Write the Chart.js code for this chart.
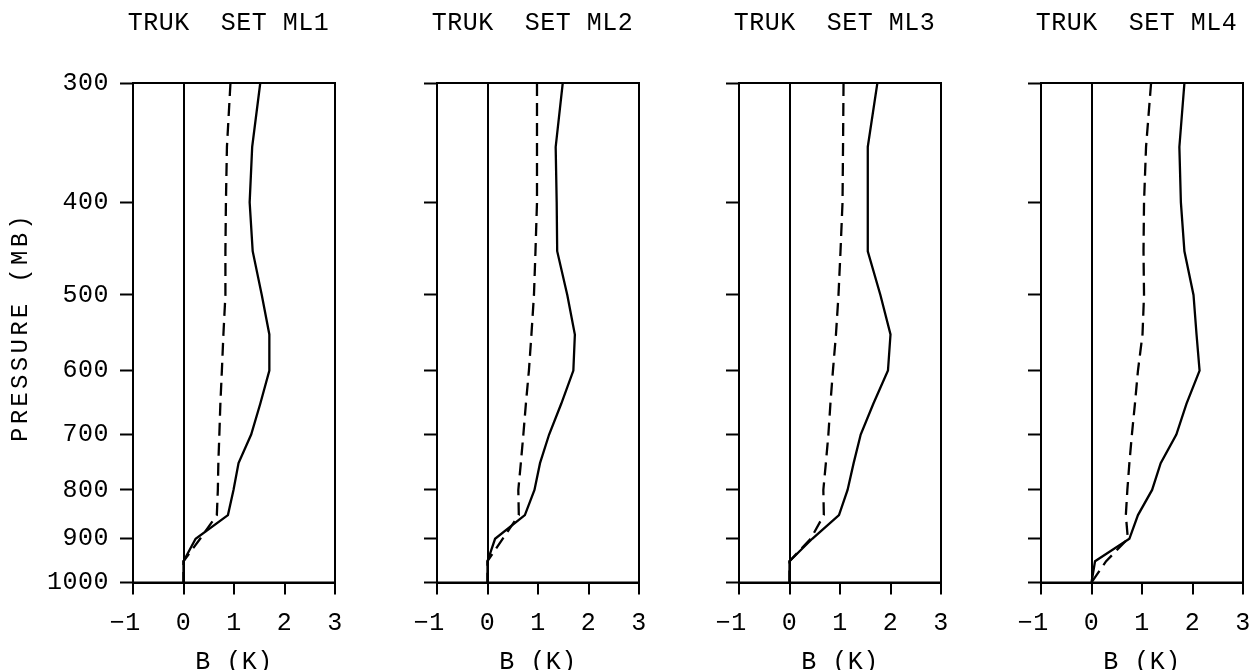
<!DOCTYPE html>
<html>
<head>
<meta charset="utf-8">
<title>TRUK SET ML1 - ML4</title>
<script src="https://cdn.jsdelivr.net/npm/chart.js@4.4.0/dist/chart.umd.min.js"></script>
<style>
  html, body { margin: 0; padding: 0; background: #fff; overflow: hidden; }
  body { width: 1253px; height: 670px; position: relative; }
  canvas { position: absolute; top: 0; }
</style>
</head>
<body>
<canvas id="ml1"></canvas>
<canvas id="ml2"></canvas>
<canvas id="ml3"></canvas>
<canvas id="ml4"></canvas>
<script>
// pressure levels (mb) and axis ticks
const levels = [300, 350, 400, 450, 500, 550, 600, 650, 700, 750, 800, 850, 900, 950, 1000];
const yTicks = [300, 400, 500, 600, 700, 800, 900, 1000];
const xTicks = [-1, 0, 1, 2, 3];

// B (K), solid and dashed profiles
const solidML1  = [1.52, 1.36, 1.31, 1.37, 1.55, 1.70, 1.70, 1.52, 1.34, 1.09, 0.99, 0.88, 0.24, 0.00, 0.00];
const dashedML1 = [0.93, 0.86, 0.84, 0.83, 0.83, 0.79, 0.76, 0.73, 0.71, 0.69, 0.68, 0.66, 0.33, 0.00, 0.00];
const solidML2  = [1.49, 1.35, 1.37, 1.38, 1.58, 1.73, 1.70, 1.46, 1.22, 1.04, 0.93, 0.74, 0.15, 0.00, 0.00];
const dashedML2 = [0.98, 0.98, 0.98, 0.95, 0.92, 0.87, 0.82, 0.76, 0.71, 0.66, 0.61, 0.62, 0.30, 0.00, 0.00];
const solidML3  = [1.74, 1.55, 1.55, 1.55, 1.80, 2.00, 1.95, 1.66, 1.41, 1.27, 1.15, 0.98, 0.45, 0.00, 0.00];
const dashedML3 = [1.07, 1.06, 1.05, 1.01, 0.97, 0.92, 0.86, 0.81, 0.77, 0.72, 0.67, 0.68, 0.42, 0.00, 0.00];
const solidML4  = [1.84, 1.74, 1.77, 1.84, 2.02, 2.08, 2.14, 1.88, 1.68, 1.37, 1.20, 0.92, 0.75, 0.07, 0.00];
const dashedML4 = [1.18, 1.08, 1.04, 1.03, 1.04, 1.01, 0.92, 0.86, 0.80, 0.75, 0.71, 0.68, 0.72, 0.29, 0.00];

const FONT = "'Liberation Mono', 'DejaVu Sans Mono', monospace";
const BOX_W = 202;
const PAD_R = 30;
const CANVAS_H = 690;
const CHART_TOP = 83;
const CHART_BOTTOM = 582.5;

const panels = [
  { id: 'ml1', name: 'ML1', solid: solidML1, dashed: dashedML1, boxLeft: 133, showY: true },
  { id: 'ml2', name: 'ML2', solid: solidML2, dashed: dashedML2, boxLeft: 437, showY: false },
  { id: 'ml3', name: 'ML3', solid: solidML3, dashed: dashedML3, boxLeft: 739, showY: false },
  { id: 'ml4', name: 'ML4', solid: solidML4, dashed: dashedML4, boxLeft: 1041, showY: false },
];

// plotter lettering is a bit wider than the mono font
const spacingPlugin = {
  id: 'spacing',
  beforeDraw(chart) { chart.ctx.letterSpacing = '0.5px'; }
};

// heading sits a few px left of the box centre; widen the block so the text is never squeezed
const titleShiftPlugin = {
  id: 'titleShift',
  afterLayout(chart) {
    const t = chart.titleBlock;
    if (!t) return;
    t.left -= 15.5;
    t.right += 4.5;
    t.width = t.right - t.left;
  }
};

// box round the plot area
const framePlugin = {
  id: 'frame',
  afterDraw(chart) {
    const { ctx, chartArea: a } = chart;
    ctx.save();
    ctx.strokeStyle = '#000';
    ctx.lineWidth = 2;
    ctx.strokeRect(a.left, a.top, a.right - a.left, a.bottom - a.top);
    ctx.restore();
  }
};

// vertical axis title, wider spaced than the tick labels
const yLabelPlugin = {
  id: 'yLabel',
  afterDraw(chart, args, opts) {
    if (!opts.text) return;
    const ctx = chart.ctx;
    ctx.save();
    ctx.font = '24px ' + FONT;
    ctx.letterSpacing = '3.3px';
    ctx.fillStyle = '#000';
    ctx.translate(opts.x, opts.y);
    ctx.rotate(-Math.PI / 2);
    ctx.textAlign = 'center';
    ctx.textBaseline = 'middle';
    ctx.fillText(opts.text, 0, 0);
    ctx.restore();
  }
};

function makePanel(p) {
  // room on the left for tick marks and the half width of the first x label
  const canvasLeft = p.showY ? 0 : p.boxLeft - 40;
  const yWidth = p.boxLeft - canvasLeft;

  const cv = document.getElementById(p.id);
  cv.width = yWidth + BOX_W + PAD_R;
  cv.height = CANVAS_H;
  cv.style.left = canvasLeft + 'px';

  const font = { family: FONT, size: 25, weight: 'normal', lineHeight: 1.2 };

  new Chart(cv, {
    type: 'line',
    data: {
      datasets: [
        {
          data: levels.map((lv, i) => ({ x: p.solid[i], y: lv })),
          borderColor: '#000', borderWidth: 2.3, pointRadius: 0, fill: false
        },
        {
          data: levels.map((lv, i) => ({ x: p.dashed[i], y: lv })),
          borderColor: '#000', borderWidth: 2.3, borderDash: [13, 7], pointRadius: 0, fill: false
        }
      ]
    },
    options: {
      responsive: false,
      animation: false,
      indexAxis: 'y',
      layout: { padding: { left: 0, right: PAD_R, top: 0, bottom: 0 } },
      plugins: {
        legend: { display: false },
        tooltip: { enabled: false },
        title: {
          display: true,
          fullSize: false,
          text: 'TRUK  SET ' + p.name,
          color: '#000',
          font: font,
          padding: { top: 8, bottom: CHART_TOP - 8 - 30 }
        },
        yLabel: { text: p.showY ? 'PRESSURE (MB)' : '', x: 21, y: 327 }
      },
      scales: {
        x: {
          type: 'linear',
          min: -1,
          max: 3,
          afterBuildTicks: s => { s.ticks = xTicks.map(v => ({ value: v })); },
          afterFit: s => { s.height = CANVAS_H - CHART_BOTTOM; },
          grid: {
            drawOnChartArea: true,
            color: c => (c.tick && c.tick.value === 0 ? '#000' : 'rgba(0,0,0,0)'),
            lineWidth: 2,
            tickColor: '#000',
            tickWidth: 2,
            tickLength: 12
          },
          border: { display: true, color: '#000', width: 2 },
          ticks: {
            color: '#000',
            font: font,
            padding: 14,
            autoSkip: false,
            maxRotation: 0,
            // keep the digit on the tick, minus hangs to the left
            callback: v => (v < 0 ? '\u2212' + (-v) + ' ' : String(v))
          },
          title: {
            display: true,
            text: 'B (K)',
            color: '#000',
            font: font,
            padding: { top: 0, bottom: 13 }
          }
        },
        y: {
          type: 'logarithmic',
          min: 300,
          max: 1000,
          reverse: true,
          afterBuildTicks: s => { s.ticks = yTicks.map(v => ({ value: v })); },
          afterFit: s => { s.width = yWidth; },
          grid: {
            drawOnChartArea: false,
            tickColor: '#000',
            tickWidth: 2,
            tickLength: 13
          },
          border: { display: true, color: '#000', width: 2 },
          ticks: {
            display: p.showY,
            color: '#000',
            font: font,
            padding: 11,
            autoSkip: false,
            callback: v => String(v)
          }
        }
      }
    },
    plugins: [spacingPlugin, titleShiftPlugin, framePlugin, yLabelPlugin]
  });
}

panels.forEach(makePanel);
</script>
</body>
</html>
